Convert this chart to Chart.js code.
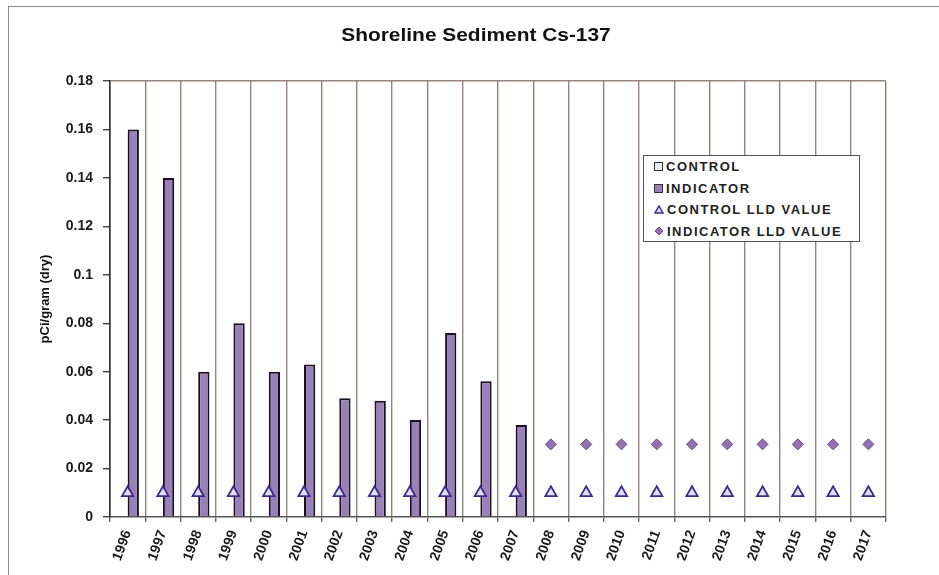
<!DOCTYPE html>
<html><head><meta charset="utf-8">
<script src="https://cdn.jsdelivr.net/npm/chart.js@4"></script>
<style>
body{margin:0;background:#fff;font-family:"Liberation Sans",Arial,sans-serif;}
#wrap{position:relative;width:939px;height:575px;overflow:hidden;background:#fff;}
#frame{position:absolute;left:8px;top:6px;width:960px;height:600px;border-left:1.5px solid #8a8a8a;border-top:1.5px solid #8a8a8a;}
#title{position:absolute;left:0;width:952px;top:24px;text-align:center;font-weight:bold;font-size:19px;color:#111;transform:scaleX(1.1);transform-origin:476px 0;white-space:nowrap;}
#legend{position:absolute;left:643px;top:155px;width:217px;height:87px;border:1px solid #555;background:#fff;box-sizing:border-box;padding:0 0 0 10px;}
.li{display:flex;align-items:center;height:21.5px;font-size:13px;font-weight:bold;color:#222;letter-spacing:1.5px;white-space:nowrap;}
.mk{width:9px;height:9px;margin-right:3px;display:inline-block;box-sizing:border-box;}
canvas{position:absolute;left:0;top:0;}
</style></head>
<body><div id="wrap">
<div id="frame"></div>
<canvas id="c" width="939" height="575"></canvas>
<div id="title">Shoreline Sediment Cs-137</div>
<div id="legend">
<div class="li"><span class="mk" style="border:1.5px solid #333;background:#e8eef6"></span>CONTROL</div>
<div class="li"><span class="mk" style="border:1.5px solid #333;background:#9a80b8"></span>INDICATOR</div>
<div class="li"><svg width="10" height="9" style="margin-right:3px"><polygon points="5,1 9,8 1,8" fill="#dde0f5" stroke="#3c2a8a" stroke-width="1.5"/></svg>CONTROL LLD VALUE</div>
<div class="li"><svg width="10" height="10" style="margin-right:3px"><polygon points="5,1 9,5 5,9 1,5" fill="#9670b0" stroke="#6a4a90" stroke-width="1"/></svg>INDICATOR LLD VALUE</div>
</div>
</div>
<script>
const years = ["1996","1997","1998","1999","2000","2001","2002","2003","2004","2005","2006","2007","2008","2009","2010","2011","2012","2013","2014","2015","2016","2017"];
const controlValues = [null,null,null,null,null,null,null,null,null,null,null,null,null,null,null,null,null,null,null,null,null,null];
const indicatorValues = [0.16,0.14,0.06,0.08,0.06,0.063,0.049,0.048,0.04,0.076,0.056,0.038,null,null,null,null,null,null,null,null,null,null];
const controlLLD = [0.01,0.01,0.01,0.01,0.01,0.01,0.01,0.01,0.01,0.01,0.01,0.01,0.01,0.01,0.01,0.01,0.01,0.01,0.01,0.01,0.01,0.01];
const indicatorLLD = [null,null,null,null,null,null,null,null,null,null,null,null,0.03,0.03,0.03,0.03,0.03,0.03,0.03,0.03,0.03,0.03];
const yTicks = [0,0.02,0.04,0.06,0.08,0.1,0.12,0.14,0.16,0.18];

const gridCol = '#938480';
const tickFont = {family:'"Liberation Sans", Arial', size:14, weight:'bold'};
new Chart(document.getElementById('c'), {
  data: {
    labels: years,
    datasets: [
      {type:'line', label:'CONTROL LLD VALUE', data: controlLLD, showLine:false, pointStyle:'triangle', pointRadius:6.5, pointBackgroundColor:'#dde0f5', pointBorderColor:'#3c2a8a', pointBorderWidth:1.8, order:0},
      {type:'line', label:'INDICATOR LLD VALUE', data: indicatorLLD, showLine:false, pointStyle:'rectRot', pointRadius:5.5, pointBackgroundColor:'#9670b0', pointBorderColor:'#6a4a90', pointBorderWidth:1, order:0},
      {type:'bar', label:'CONTROL', data: controlValues, backgroundColor:'#e8eef6', borderColor:'#222', borderWidth:1.5, categoryPercentage:0.64, barPercentage:1, order:1},
      {type:'bar', label:'INDICATOR', data: indicatorValues, backgroundColor:'#9a80b8', borderColor:'#1a1020', borderWidth:2, categoryPercentage:0.64, barPercentage:1, order:1}
    ]
  },
  options: {
    responsive:false, animation:false,
    layout:{padding:{left:38, right:53, top:81, bottom:0}},
    plugins:{legend:{display:false}, title:{display:false}, tooltip:{enabled:false}},
    scales:{
      x:{
        offset:true,
        afterFit: s => { s.height = 58; },
        grid:{display:true, offset:true, color:gridCol, lineWidth:1.4, drawTicks:true, tickLength:5, tickColor:'#666'},
        border:{display:true, color:'#555', width:1.5},
        ticks:{color:'#1a1a1a', font:tickFont, maxRotation:70, minRotation:70, autoSkip:false, padding:6}
      },
      y:{
        min:0, max:0.18,
        afterFit: s => { s.width = 72; },
        afterBuildTicks: s => { s.ticks = yTicks.map(v => ({value:v})); },
        grid:{display:true, drawTicks:true, tickLength:7, color: ctx => (ctx.tick && Math.abs(ctx.tick.value-0.18)<1e-9) ? gridCol : 'rgba(0,0,0,0)', tickColor:'#444', lineWidth:1.4},
        border:{display:true, color:'#333', width:1.6},
        ticks:{color:'#1a1a1a', font:tickFont, padding:10, callback: v => String(Number(Number(v).toFixed(2)))},
        title:{display:true, text:'pCi/gram (dry)', color:'#111', font:{family:'"Liberation Sans", Arial', size:13, weight:'bold'}, padding:{top:0,bottom:2}}
      }
    }
  }
});
</script>
</body></html>
